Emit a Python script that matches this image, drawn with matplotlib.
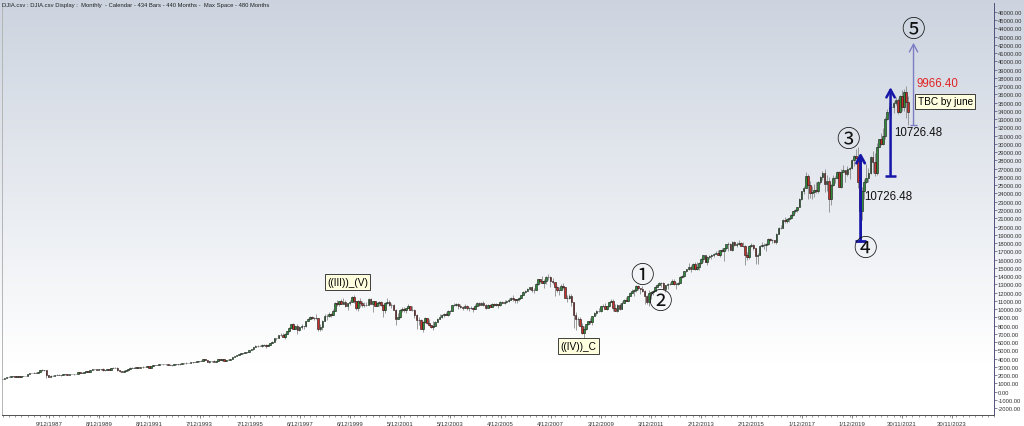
import numpy as np
import pandas as pd
import matplotlib
matplotlib.use('Agg')
import matplotlib.pyplot as plt
import matplotlib.dates as mdates
from matplotlib.ticker import FormatStrFormatter

plt.rcParams['font.family'] = ['Liberation Sans', 'DejaVu Sans', 'Noto Sans CJK JP']

# DJIA monthly bars, Jan 1986 .. Feb 2022 (434 bars)
first_open = 1547
close_px = [
    1571, 1709, 1819, 1784, 1877, 1893, 1775, 1898, 1768, 1878, 1914, 1896,  # 1986
    2158, 2224, 2305, 2286, 2292, 2419, 2572, 2663, 2596, 1994, 1834, 1939,  # 1987
    1958, 2072, 1988, 2032, 2031, 2142, 2129, 2032, 2113, 2149, 2115, 2169,  # 1988
    2342, 2258, 2294, 2419, 2480, 2440, 2661, 2737, 2693, 2645, 2706, 2753,  # 1989
    2591, 2627, 2707, 2657, 2877, 2881, 2905, 2614, 2452, 2442, 2560, 2634,  # 1990
    2736, 2882, 2914, 2888, 3028, 2907, 3025, 3044, 3017, 3069, 2895, 3169,  # 1991
    3223, 3268, 3235, 3359, 3397, 3319, 3394, 3257, 3272, 3226, 3305, 3301,  # 1992
    3310, 3371, 3435, 3428, 3527, 3516, 3539, 3651, 3555, 3681, 3684, 3754,  # 1993
    3978, 3832, 3636, 3682, 3758, 3625, 3765, 3913, 3843, 3908, 3739, 3834,  # 1994
    3844, 4011, 4158, 4321, 4465, 4556, 4708, 4648, 4789, 4755, 5074, 5117,  # 1995
    5395, 5486, 5587, 5569, 5643, 5655, 5529, 5616, 5882, 6029, 6522, 6448,  # 1996
    6813, 6878, 6583, 7009, 7331, 7673, 8223, 7622, 7945, 7442, 7823, 7908,  # 1997
    7907, 8546, 8800, 9063, 8900, 8952, 8883, 7539, 7843, 8592, 9117, 9181,  # 1998
    9359, 9307, 9786, 10789, 10560, 10971, 10655, 10829, 10337, 10730, 10878, 11497,  # 1999
    10941, 10128, 10922, 10734, 10522, 10448, 10522, 11215, 10651, 10971, 10414, 10787,  # 2000
    10887, 10495, 9879, 10735, 10912, 10502, 10523, 9950, 8848, 9075, 9852, 10022,  # 2001
    9920, 10106, 10404, 9946, 9925, 9243, 8737, 8664, 7592, 8397, 8896, 8342,  # 2002
    8054, 7891, 7992, 8480, 8850, 8985, 9234, 9416, 9275, 9801, 9782, 10454,  # 2003
    10488, 10584, 10358, 10226, 10188, 10435, 10140, 10174, 10080, 10027, 10428, 10783,  # 2004
    10490, 10766, 10504, 10193, 10467, 10275, 10641, 10482, 10569, 10440, 10806, 10718,  # 2005
    10865, 10993, 11109, 11367, 11168, 11150, 11186, 11381, 11679, 12081, 12222, 12463,  # 2006
    12622, 12269, 12354, 13063, 13628, 13409, 13212, 13358, 13896, 13930, 13372, 13265,  # 2007
    12650, 12266, 12263, 12820, 12638, 11350, 11378, 11544, 10851, 9325, 8829, 8776,  # 2008
    8001, 7063, 7609, 8168, 8500, 8447, 9172, 9496, 9712, 9713, 10345, 10428,  # 2009
    10067, 10325, 10857, 11009, 10137, 9774, 10466, 10015, 10788, 11118, 11006, 11578,  # 2010
    11892, 12226, 12320, 12811, 12570, 12414, 12143, 11614, 10913, 11955, 12046, 12218,  # 2011
    12633, 12952, 13212, 13214, 12393, 12880, 13009, 13091, 13437, 13096, 13026, 13104,  # 2012
    13861, 14054, 14579, 14840, 15116, 14910, 15500, 14810, 15130, 15546, 16086, 16577,  # 2013
    15699, 16322, 16458, 16581, 16717, 16827, 16563, 17098, 17043, 17391, 17828, 17823,  # 2014
    17165, 18133, 17776, 17841, 18011, 17620, 17690, 16528, 16285, 17664, 17720, 17425,  # 2015
    16466, 16517, 17685, 17774, 17787, 17930, 18432, 18401, 18308, 18142, 19124, 19763,  # 2016
    19864, 20812, 20663, 20941, 21009, 21350, 21891, 21948, 22405, 23377, 24272, 24719,  # 2017
    26149, 25029, 24103, 24163, 24416, 24271, 25415, 25965, 26458, 25116, 25538, 23327,  # 2018
    25000, 25916, 25929, 26593, 24815, 26600, 26864, 26403, 26917, 27046, 28051, 28538,  # 2019
    28256, 25409, 21917, 24346, 25383, 25813, 26428, 28430, 27782, 26502, 29639, 30606,  # 2020
    29983, 30932, 32982, 33875, 34529, 34503, 34935, 35361, 33844, 35820, 34484, 36338,  # 2021
    35132, 33893,  # 2022
]
high_px = [
    1575, 1713, 1822, 1855, 1882, 1893, 1909, 1898, 1919, 1878, 1916, 1955,
    2163, 2244, 2305, 2406, 2342, 2446, 2572, 2722, 2662, 2640, 2014, 2014,
    2051, 2072, 2087, 2110, 2059, 2152, 2158, 2134, 2119, 2183, 2170, 2182,
    2342, 2347, 2340, 2419, 2502, 2531, 2661, 2752, 2752, 2791, 2713, 2753,
    2810, 2660, 2755, 2766, 2878, 2935, 3000, 2939, 2666, 2540, 2569, 2655,
    2736, 2934, 2940, 3004, 3028, 3036, 3025, 3055, 3050, 3077, 3065, 3169,
    3264, 3290, 3290, 3366, 3413, 3413, 3394, 3395, 3376, 3275, 3305, 3333,
    3310, 3442, 3478, 3478, 3554, 3524, 3567, 3652, 3653, 3687, 3710, 3794,
    3978, 3975, 3896, 3705, 3766, 3799, 3765, 3917, 3953, 3937, 3941, 3862,
    3928, 4011, 4158, 4321, 4465, 4589, 4727, 4700, 4802, 4802, 5105, 5216,
    5395, 5630, 5690, 5689, 5778, 5719, 5729, 5734, 5905, 6094, 6547, 6560,
    6883, 7079, 7085, 7050, 7383, 7796, 8254, 8259, 8001, 8178, 7914, 8149,
    7978, 8574, 8906, 9211, 9185, 9069, 9367, 8916, 8154, 8641, 9380, 9374,
    9674, 9556, 10006, 10879, 11107, 10987, 11252, 11299, 11079, 10786, 11089, 11568,
    11750, 11041, 11163, 11401, 10936, 10863, 10898, 11310, 11401, 10977, 11025, 10898,
    10983, 11019, 10644, 10866, 11351, 11075, 10738, 10604, 10030, 9545, 9976, 10225,
    10244, 10166, 10673, 10431, 10390, 9986, 9452, 9077, 8756, 8551, 9044, 8925,
    8842, 8106, 8522, 8558, 8904, 9352, 9351, 9469, 9687, 9837, 9875, 10460,
    10754, 10754, 10753, 10571, 10327, 10563, 10461, 10247, 10376, 10247, 10591, 10868,
    10852, 10841, 10984, 10570, 10567, 10623, 10720, 10719, 10710, 10629, 10942, 10986,
    11047, 11137, 11335, 11419, 11709, 11264, 11238, 11416, 11734, 12167, 12361, 12580,
    12659, 12795, 12563, 13163, 13692, 13692, 14022, 13658, 14000, 14198, 13970, 13779,
    13279, 12767, 12622, 12983, 13136, 12719, 11698, 11867, 11790, 10882, 9654, 9026,
    9088, 8315, 7924, 8242, 8588, 8878, 9207, 9630, 9917, 10119, 10406, 10580,
    10730, 10402, 10908, 11258, 11205, 10595, 10584, 10720, 10948, 11246, 11451, 11625,
    12020, 12391, 12419, 12876, 12908, 12570, 12753, 12285, 11717, 12284, 12140, 12324,
    12843, 13055, 13290, 13309, 13338, 12899, 13103, 13330, 13653, 13662, 13290, 13311,
    13969, 14149, 14585, 14888, 15542, 15340, 15634, 15658, 15709, 15722, 16174, 16588,
    16588, 16398, 16588, 16631, 16736, 16978, 17151, 17153, 17350, 17395, 17894, 18103,
    18009, 18244, 18289, 18175, 18351, 18146, 18137, 17710, 16933, 17800, 17977, 17888,
    17430, 16752, 17791, 18168, 18016, 18017, 18622, 18668, 18494, 18399, 19226, 19988,
    20126, 20893, 21169, 21071, 21113, 21535, 21930, 22179, 22420, 23485, 24328, 24877,
    26617, 26307, 25450, 24858, 25087, 25402, 25550, 26168, 26769, 26952, 26277, 25980,
    25159, 26242, 26156, 26696, 26667, 26907, 27399, 26887, 27306, 27207, 28175, 28702,
    29374, 29568, 27102, 24765, 25758, 27581, 27053, 28504, 29199, 28959, 30116, 30638,
    31272, 31961, 33259, 34257, 35092, 34850, 35172, 35631, 35510, 35892, 36566, 36679,
    36952, 35824,
]
low_px = [
    1502, 1565, 1686, 1736, 1758, 1837, 1763, 1763, 1755, 1755, 1845, 1895,
    1890, 2140, 2210, 2230, 2215, 2278, 2406, 2543, 2493, 1616, 1817, 1766,
    1879, 1950, 1978, 1976, 1941, 2025, 2055, 1989, 2002, 2090, 2038, 2092,
    2144, 2235, 2243, 2281, 2373, 2437, 2430, 2640, 2659, 2569, 2582, 2687,
    2543, 2564, 2600, 2645, 2645, 2842, 2857, 2532, 2429, 2344, 2425, 2550,
    2470, 2720, 2830, 2870, 2867, 2879, 2900, 2858, 2983, 2941, 2865, 2836,
    3140, 3193, 3200, 3181, 3341, 3270, 3276, 3227, 3250, 3136, 3193, 3255,
    3241, 3290, 3350, 3370, 3414, 3449, 3449, 3520, 3537, 3540, 3625, 3670,
    3740, 3809, 3594, 3520, 3630, 3624, 3626, 3727, 3831, 3774, 3674, 3685,
    3832, 3830, 3980, 4150, 4313, 4435, 4553, 4580, 4647, 4703, 4750, 5059,
    5000, 5373, 5471, 5485, 5420, 5588, 5346, 5520, 5606, 5870, 5993, 6268,
    6442, 6767, 6570, 6391, 6969, 7269, 7658, 7551, 7602, 6936, 7371, 7650,
    7539, 7855, 8503, 8750, 8829, 8627, 8845, 7379, 7400, 7467, 8569, 8695,
    9056, 9063, 9272, 9743, 10392, 10383, 10592, 10644, 10198, 9884, 10547, 10870,
    10738, 9862, 9731, 10305, 10299, 10300, 10320, 10518, 10580, 9654, 10323, 10318,
    10336, 10377, 9047, 9485, 10654, 10404, 10174, 9861, 8062, 8817, 8975, 9666,
    9613, 9578, 10080, 9887, 9780, 8970, 7532, 8043, 7581, 7197, 8317, 8216,
    7948, 7653, 7416, 7911, 8393, 8825, 8902, 9097, 9257, 9200, 9462, 9727,
    10357, 10427, 9977, 10192, 9852, 10172, 9944, 9785, 10013, 9708, 10025, 10399,
    10368, 10472, 10403, 10012, 10124, 10255, 10239, 10371, 10376, 10156, 10394, 10687,
    10662, 10794, 10883, 11043, 11007, 10683, 10698, 11016, 11287, 11664, 11990, 12164,
    12343, 12038, 11940, 12331, 12979, 13194, 13170, 12518, 13089, 13499, 12724, 13077,
    11635, 12012, 11731, 12264, 12475, 11288, 10827, 11216, 10365, 7773, 7449, 8118,
    7910, 6950, 6470, 7496, 8081, 8205, 8087, 9113, 9253, 9675, 9679, 10235,
    10015, 9835, 10282, 10856, 9774, 9758, 9615, 9936, 10010, 10712, 10929, 11007,
    11577, 11893, 11555, 12093, 12291, 11862, 12093, 10604, 10597, 10404, 11231, 11735,
    12218, 12631, 12859, 12710, 12391, 12035, 12492, 12898, 13040, 12963, 12471, 12883,
    13105, 13784, 13937, 14434, 14746, 14551, 14900, 14760, 14777, 14719, 15486, 15703,
    15690, 15340, 16016, 16015, 16334, 16675, 16560, 16333, 16891, 15855, 17166, 17067,
    17136, 17037, 17585, 17568, 17774, 17595, 17465, 15370, 15942, 16014, 17485, 17139,
    15451, 15504, 16511, 17484, 17332, 17063, 17713, 18248, 17992, 17960, 17884, 19099,
    19677, 19832, 20412, 20380, 20554, 20968, 21279, 21600, 21709, 22416, 23242, 23922,
    24741, 23360, 23509, 23345, 23532, 23998, 24077, 25124, 25683, 24123, 24268, 21713,
    22639, 24884, 25209, 26039, 24813, 24680, 26553, 25339, 26122, 25743, 27023, 27326,
    28170, 24681, 18214, 20735, 23361, 25243, 25391, 26326, 26537, 26143, 26278, 29602,
    29857, 29850, 30547, 32896, 33473, 33271, 33741, 34690, 33614, 33785, 34006, 34006,
    33150, 32272,
]

tick_labels = ['9/12/1987', '8/12/1989', '8/12/1991', '7/12/1993', '7/12/1995',
               '6/12/1997', '6/12/1999', '5/12/2001', '5/12/2003', '4/12/2005',
               '4/12/2007', '3/12/2009', '3/12/2011', '2/12/2013', '2/12/2015',
               '1/12/2017', '1/12/2019', '30/11/2021', '30/11/2023']

# wave projections (base, length)
wave4_low, wave4_len = 18214, 10726.48
wave5a_low, wave5a_len = 26143, 10726.48
wave5b_low, wave5b_len = 32272, 9966.40

title = ('DJIA.csv : DJIA.csv Display :  Monthly  - Calendar - 434 Bars - '
         '440 Months -  Max Space - 480 Months')

# ---------------------------------------------------------------
months = pd.date_range('1986-01-31', periods=len(close_px), freq='ME')
x = mdates.date2num(months)
c = np.array(close_px, dtype=float)
o = np.r_[first_open, c[:-1]]
h = np.maximum(np.array(high_px, dtype=float), np.maximum(o, c))
l = np.minimum(np.array(low_px, dtype=float), np.minimum(o, c))
up = c >= o

fig = plt.figure(figsize=(10.24, 4.27), dpi=100)

# background gradient (grey-blue at top -> white)
bg = fig.add_axes([0, 0, 1, 1], zorder=-5)
t = np.linspace(0, 1, 256)[:, None]
top_rgb = np.array([0.80, 0.83, 0.875])
mix = np.clip(t / 0.85, 0, 1)
grad = top_rgb * (1 - mix) + mix
bg.imshow(np.repeat(grad[:, None, :], 2, axis=1).reshape(256, 2, 3),
          aspect='auto', extent=[0, 1, 0, 1], origin='upper')
bg.axis('off')

ax = fig.add_axes([2 / 1024, 11 / 427, 992 / 1024, 412 / 427])
ax.patch.set_alpha(0)

ax.vlines(x, l, h, color='#8a8a8a', lw=0.6, zorder=2)
ax.bar(x[up], (c - o)[up], bottom=o[up], width=24, color='#2e8b3a',
       edgecolor='#151515', linewidth=0.4, zorder=3)
ax.bar(x[~up], (c - o)[~up], bottom=o[~up], width=24, color='#c8302a',
       edgecolor='#151515', linewidth=0.4, zorder=3)

ax.set_xlim(mdates.date2num(pd.Timestamp('1986-01-24')),
            mdates.date2num(pd.Timestamp('2025-08-01')))
ax.set_ylim(-2820, 47060)

# axes styling
ax.spines['top'].set_visible(False)
ax.spines['left'].set_color('#b5b5b5')
ax.spines['right'].set_color('#50507a')
ax.spines['bottom'].set_color('#505050')
for s in ax.spines.values():
    s.set_linewidth(0.7)

ax.yaxis.tick_right()
ax.set_yticks(np.arange(-2000, 46001, 1000))
ax.yaxis.set_major_formatter(FormatStrFormatter('%.2f'))
ax.tick_params(axis='y', length=2, width=0.5, labelsize=4.2, pad=0.5,
               colors='#50507a', labelcolor='#333333')

tick_dates = pd.to_datetime(tick_labels, format='%d/%m/%Y')
ax.set_xticks(mdates.date2num(tick_dates))
ax.set_xticklabels(tick_labels)
ax.xaxis.set_minor_locator(mdates.MonthLocator(bymonth=[2, 5, 8, 11]))
ax.tick_params(axis='x', which='major', length=2.5, width=0.5, labelsize=4.3,
               pad=1.5, colors='#505050', labelcolor='#333333')
ax.tick_params(axis='x', which='minor', length=1.5, width=0.4, colors='#505050')


def d(s):
    return mdates.date2num(pd.Timestamp(s))


# wave labels
box = dict(boxstyle='square,pad=0.25', fc='#ffffe0', ec='#202020', lw=0.6)
ax.text(d('1999-10-30'), 13280, '((III))_(V)', fontsize=7.3, ha='center',
        va='center', bbox=box, zorder=6)
ax.text(d('2009-01-10'), 5530, '((IV))_C', fontsize=7.3, ha='center',
        va='center', bbox=box, zorder=6)

circ = dict(fontsize=17, ha='center', va='center', zorder=6, color='#111111',
            family=['Noto Sans CJK JP', 'DejaVu Sans'])
ax.text(d('2011-07-30'), 14100, '\u2460', **circ)
ax.text(d('2012-04-05'), 10900, '\u2461', **circ)
ax.text(d('2019-10-15'), 30500, '\u2462', **circ)
ax.text(d('2020-06-05'), 17300, '\u2463', **circ)
ax.text(d('2022-05-18'), 43900, '\u2464', **circ)

# projection arrows
def proj(xd, base, length, color, lw, cap):
    ax.annotate('', xy=(xd, base + length), xytext=(xd, base),
                arrowprops=dict(arrowstyle='->,head_length=0.55,head_width=0.3',
                                color=color, lw=lw, shrinkA=0, shrinkB=0),
                zorder=5)
    ax.plot([xd - cap, xd + cap], [base, base], color=color, lw=lw,
            solid_capstyle='butt', zorder=5)


proj(d('2020-04-08'), wave4_low, wave4_len, '#1616a8', 2.0, 85)
proj(d('2021-06-18'), wave5a_low, wave5a_len, '#1616a8', 1.8, 75)
proj(d('2022-05-18'), wave5b_low, wave5b_len, '#7d7dc4', 1.0, 45)

ax.text(d('2020-06-05'), wave4_low + 5450, '%.2f' % wave4_len, fontsize=8.3,
        ha='left', va='center', color='#111111', zorder=6)
ax.text(d('2021-08-14'), 31430, '%.2f' % wave5a_len, fontsize=8.3,
        ha='left', va='center', color='#111111', zorder=6)
ax.text(d('2022-07-01'), 37360, '%.2f' % wave5b_len, fontsize=8.3,
        ha='left', va='center', color='#e02424', zorder=6)
ax.text(d('2022-07-20'), 35190, 'TBC by june', fontsize=7.2, ha='left',
        va='center', bbox=box, zorder=6)

fig.text(2 / 1024, 1 - 5 / 427, title, fontsize=4.2, va='center',
         color='#202020')

fig.savefig('out.png', dpi=100)
